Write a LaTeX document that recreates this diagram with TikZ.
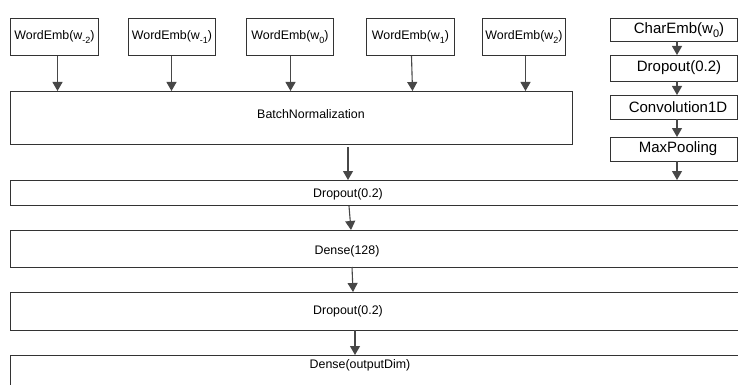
\documentclass[tikz,border=0pt]{standalone}
\usepackage{fontspec}
\setmainfont{Liberation Sans}
\usetikzlibrary{arrows.meta}
\definecolor{ln}{HTML}{333333}
\newcommand{\mysub}[1]{\raisebox{-3.5pt}{\fontsize{9}{10}\selectfont #1}}
\newcommand{\mycsub}[1]{\raisebox{-4pt}{\fontsize{11}{12}\selectfont #1}}
\tikzset{
  box/.style={draw=ln, line width=1pt, fill=white, inner sep=0pt, anchor=north west},
  lbl/.style={inner sep=0pt, font=\fontsize{12.4}{14}\selectfont, text=black},
  clbl/.style={inner sep=0pt, font=\fontsize{15}{17}\selectfont, text=black},
  arr/.style={draw=ln!90!white, line width=1.1pt, -{Triangle[length=9pt,width=10pt]}}
}
\begin{document}
\begin{tikzpicture}[x=1pt,y=-1pt]
\useasboundingbox (0,0) rectangle (738,385);
\clip (0,0) rectangle (738,385);
% word embedding boxes
\node[box, minimum width=88pt, minimum height=37pt] (wm2) at (10,18) {};
\node[box, minimum width=87pt, minimum height=37pt] (wm1) at (128,18) {};
\node[box, minimum width=87pt, minimum height=37pt] (w0) at (246,18) {};
\node[box, minimum width=88pt, minimum height=37pt] (w1) at (366,18) {};
\node[box, minimum width=83pt, minimum height=37pt] (w2) at (482,18) {};
\node[lbl] (twm2) at (wm2.center) {WordEmb(w\mysub{-2})};
\node[lbl] (twm1) at (wm1.center) {WordEmb(w\mysub{-1})};
\node[lbl] (tw0) at (w0.center) {WordEmb(w\mysub{0})};
\node[lbl] (tw1) at (w1.center) {WordEmb(w\mysub{1})};
\node[lbl] (tw2) at (w2.center) {WordEmb(w\mysub{2})};
% batch normalization
\node[box, minimum width=562pt, minimum height=53pt] (bn) at (10,91) {};
\node[lbl] (tbn) at (311,114) {BatchNormalization};
% char column
\node[box, minimum width=127pt, minimum height=23pt] (c1) at (610,18) {};
\node[box, minimum width=127pt, minimum height=26pt] (c2) at (610,55) {};
\node[box, minimum width=127pt, minimum height=24pt] (c3) at (610,95) {};
\node[box, minimum width=127pt, minimum height=24pt] (c4) at (610,137) {};
\node[clbl] (tc1) at (679,30) {CharEmb(w\mycsub{0})};
\node[clbl] (tc2) at (679,68) {Dropout(0.2)};
\node[clbl] (tc3) at (678,107) {Convolution1D};
\node[clbl] (tc4) at (678,149) {MaxPooling};
% wide layers
\node[box, minimum width=760pt, minimum height=25pt] (d1) at (10,180) {};
\node[box, minimum width=760pt, minimum height=37pt] (dn1) at (10,230) {};
\node[box, minimum width=760pt, minimum height=38pt] (d2) at (10,292) {};
\node[box, minimum width=760pt, minimum height=50pt] (out) at (10,355) {};
\node[lbl] (td1) at (348,194) {Dropout(0.2)};
\node[lbl] (tdn1) at (347,251) {Dense(128)};
\node[lbl] (td2) at (348,311) {Dropout(0.2)};
\node[lbl] (tout) at (360,365) {Dense(outputDim)};
% connectors
\draw[arr] ([xshift=3pt]wm2.south) -- ([xshift=3pt]wm2.south |- bn.north);
\draw[arr] ([xshift=-0.5pt]wm1.south) -- ([xshift=-0.5pt]wm1.south |- bn.north);
\draw[arr] ([xshift=0.5pt]w0.south) -- ([xshift=0.5pt]w0.south |- bn.north);
\draw[arr] ([xshift=1pt]w1.south) -- ([xshift=2pt]w1.south |- bn.north);
\draw[arr] ([xshift=1.5pt]w2.south) -- ([xshift=1.5pt]w2.south |- bn.north);
\coordinate (bnx) at (348,147);
\draw[arr] (bnx) -- (bnx |- d1.north);
\coordinate (d1x) at (349,206);
\draw[arr] (d1x) -- (351,230);
\coordinate (dn1x) at (352,267);
\draw[arr] (dn1x) -- (353,292);
\coordinate (d2x) at (355,330);
\draw[arr] (d2x) -- (d2x |- out.north);
\coordinate (cx1) at (677,41);
\draw[arr] (cx1) -- (cx1 |- c2.north);
\coordinate (cx2) at (677,81);
\draw[arr] (cx2) -- (cx2 |- c3.north);
\coordinate (cx3) at (677,119);
\draw[arr] (cx3) -- (cx3 |- c4.north);
\coordinate (cx4) at (677,161);
\draw[arr] (cx4) -- (cx4 |- d1.north);
\end{tikzpicture}
\end{document}
